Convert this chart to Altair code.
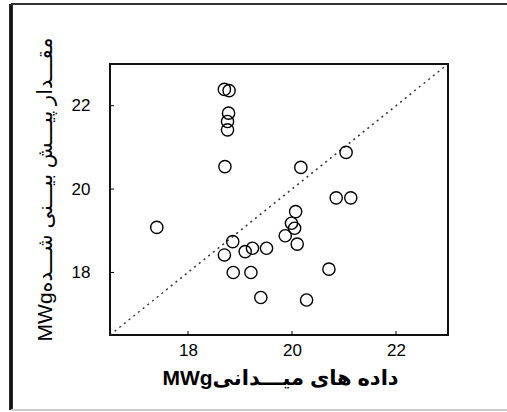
import altair as alt
import pandas as pd

# Field measurements vs. predicted values (MWg)
measured = [18.70, 18.79, 18.78, 18.76, 18.76, 18.71, 17.40, 20.17, 21.04, 20.85,
            21.13, 20.07, 19.99, 20.05, 19.87, 20.10, 18.86, 18.70, 19.10, 19.24,
            19.51, 18.87, 19.21, 20.71, 19.40, 20.28]
predicted = [22.39, 22.36, 21.82, 21.62, 21.42, 20.54, 19.08, 20.52, 20.88, 19.79,
             19.79, 19.46, 19.18, 19.06, 18.88, 18.68, 18.74, 18.42, 18.50, 18.58,
             18.58, 18.00, 18.00, 18.08, 17.40, 17.34]
axis_range = [16.5, 23]
tick_values = [18, 20, 22]

x_title = "MWg" + "داده های میـــدانی"
y_title = "MWg" + "مقـــدار پیـــش بیـــنی شـــده"

FONT = "Liberation Sans, DejaVu Sans"
W, H = 338, 271

points = pd.DataFrame({"measured": measured, "predicted": predicted})
diag = pd.DataFrame({"measured": axis_range, "predicted": axis_range})
ticks = pd.DataFrame({"v": tick_values})

xs = alt.Scale(domain=axis_range, nice=False, zero=False)
ys = alt.Scale(domain=axis_range, nice=False, zero=False)

x_axis = alt.Axis(values=tick_values, title=x_title, domain=False, ticks=False, grid=False,
                  labelFontSize=17, labelPadding=7, labelColor="#000", labelFont=FONT,
                  titleFontSize=21, titleFont=FONT, titleFontWeight="bold", titleColor="#000",
                  titleX=170, titleY=43, titleBaseline="middle")
y_axis = alt.Axis(values=tick_values, title=y_title, domain=False, ticks=False, grid=False,
                  labelFontSize=17, labelPadding=20, labelColor="#000", labelFont=FONT,
                  titleFontSize=21, titleFont=FONT, titleFontWeight="normal", titleColor="#000",
                  titleX=-65, titleY=125, titleBaseline="middle")

diagonal = alt.Chart(diag).mark_line(
    color="#333", strokeWidth=1.5, strokeDash=[2, 4]
).encode(
    x=alt.X("measured:Q", scale=xs, axis=x_axis),
    y=alt.Y("predicted:Q", scale=ys, axis=y_axis),
)

scatter = alt.Chart(points).mark_point(
    shape="circle", size=150, filled=False, color="#000", strokeWidth=1.4, opacity=1
).encode(
    x=alt.X("measured:Q", scale=xs),
    y=alt.Y("predicted:Q", scale=ys),
)

# inward-pointing tick marks
xticks = alt.Chart(ticks).mark_rule(color="#000", strokeWidth=1).encode(
    x=alt.X("v:Q", scale=xs), y=alt.value(H), y2=alt.value(H - 4)
)
yticks = alt.Chart(ticks).mark_rule(color="#000", strokeWidth=1).encode(
    y=alt.Y("v:Q", scale=ys), x=alt.value(0), x2=alt.value(4)
)

# outer border around the figure
frame_left = alt.Chart(ticks).mark_rule(color="#111", strokeWidth=3).encode(
    x=alt.value(-99), y=alt.value(-60), y2=alt.value(346)
)
frame_top = alt.Chart(ticks).mark_rule(color="#333", strokeWidth=2).encode(
    x=alt.value(-99), x2=alt.value(397), y=alt.value(-60)
)
frame_bottom = alt.Chart(ticks).mark_rule(color="#ccc", strokeWidth=2).encode(
    x=alt.value(-99), x2=alt.value(397), y=alt.value(346)
)

chart = alt.layer(
    diagonal, scatter, xticks, yticks, frame_left, frame_top, frame_bottom
).properties(
    width=W, height=H,
    background="white",
    autosize=alt.AutoSizeParams(type="none"),
    padding={"left": 110, "top": 64, "right": 59, "bottom": 77},
).configure_view(
    stroke="#111", strokeWidth=2
)

chart.save("out.html", embed_options={"renderer": "svg", "actions": False})
